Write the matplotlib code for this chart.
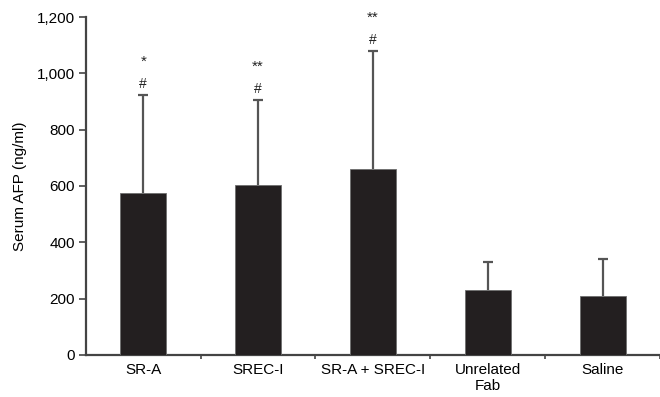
import matplotlib.pyplot as plt
import numpy as np

plt.rcParams['font.family'] = ['Liberation Sans', 'DejaVu Sans']

# data
groups = ["SR-A", "SREC-I", "SR-A + SREC-I", "Unrelated\nFab", "Saline"]
afp_mean = [575, 603, 660, 231, 209]
afp_err = [348, 302, 419, 99, 132]
marks_top = ["*", "**", "**", "", ""]
marks_low = ["#", "#", "#", "", ""]
y_ticks = [0, 200, 400, 600, 800, 1000, 1200]
y_ticklabels = ["0", "200", "400", "600", "800", "1,000", "1,200"]

fig = plt.figure(figsize=(6.6, 3.97), dpi=100)
ax = fig.add_axes([0.130, 0.106, 0.870, 0.851])

x = np.arange(len(groups))
ax.bar(x, afp_mean, width=0.4, color="#231f20", edgecolor="#6e6e6e",
       linewidth=0.6, zorder=3)
eb = ax.errorbar(x, afp_mean, yerr=[np.zeros(len(x)), afp_err], fmt="none",
                 ecolor="#555555", elinewidth=1.6, capsize=3.3, capthick=1.6,
                 zorder=2)
eb[1][0].set_visible(False)  # no lower caps

for xi, m, e, t, l in zip(x, afp_mean, afp_err, marks_top, marks_low):
    top = m + e
    if l:
        ax.annotate(l, (xi, top), xytext=(0, 8), textcoords="offset points",
                    ha="center", va="center", fontsize=10, color="#222222")
    if t:
        ax.annotate(t, (xi, top), xytext=(0, 24), textcoords="offset points",
                    ha="center", va="center", fontsize=11, color="#222222")

ax.set_xlim(-0.5, 4.5)
ax.set_ylim(0, 1200)
ax.set_yticks(y_ticks)
ax.set_yticklabels(y_ticklabels)
ax.set_xticks(x)
ax.set_xticklabels(groups)
ax.set_xticks(np.arange(0.5, 5, 1.0), minor=True)
ax.tick_params(axis="x", which="major", length=0, pad=6, labelsize=11)
ax.tick_params(axis="x", which="minor", length=3, width=1.2, color="#444444")
ax.tick_params(axis="y", length=5, width=1.2, color="#444444", labelsize=11,
               pad=3)
ax.set_ylabel("Serum AFP (ng/ml)", fontsize=11, labelpad=7)

for s in ["top", "right"]:
    ax.spines[s].set_visible(False)
for s in ["left", "bottom"]:
    ax.spines[s].set_color("#444444")
    ax.spines[s].set_linewidth(1.6)

plt.savefig("out.png", dpi=100)
